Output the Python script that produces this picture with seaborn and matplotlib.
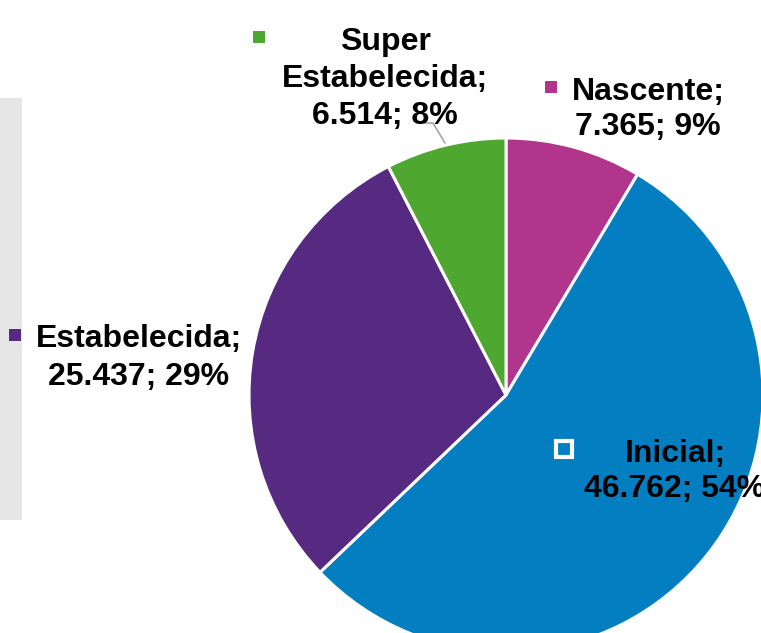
import matplotlib.pyplot as plt
import seaborn as sns
from matplotlib.patches import Rectangle

# data
categories = ['Nascente', 'Inicial', 'Estabelecida', 'Super Estabelecida']
values = [7365, 46762, 25437, 6514]
value_labels = ['7.365', '46.762', '25.437', '6.514']
percent_labels = ['9%', '54%', '29%', '8%']
colors = ['#B0358B', '#037EC0', '#572A82', '#4EA72E']

W, H = 761, 633

sns.set_theme(style='white')
plt.rcParams['font.family'] = ['Liberation Sans', 'DejaVu Sans']

fig = plt.figure(figsize=(W / 100, H / 100), dpi=100)
ax = fig.add_axes([0, 0, 1, 1])


def py(y):
    # image pixel row -> axes data y
    return H - y


# gray panel on the left
ax.add_patch(Rectangle((0, py(520)), 22, 422, color='#E6E6E6', lw=0, zorder=0))

ax.pie(values, colors=colors, startangle=90, counterclock=False,
       center=(506, py(395)), radius=257, frame=True,
       wedgeprops=dict(edgecolor='white', linewidth=2.2))
ax.set_xlim(0, W)
ax.set_ylim(0, H)
ax.axis('off')

# label layout: (center x, first baseline, line step, marker x, marker y)
layout = {
    'Nascente': (648, 100, 35, 551, 87),
    'Inicial': (675, 462, 35, 564, 449),
    'Estabelecida': (139, 347, 38, 15, 335),
    'Super Estabelecida': (385, 50, 37, 259, 37),
}

for cat, vl, pct, col in zip(categories, value_labels, percent_labels, colors):
    if cat == 'Super Estabelecida':
        lines = ['Super', 'Estabelecida;', f'{vl}; {pct}']
    else:
        lines = [f'{cat};', f'{vl}; {pct}']
    cx, base, step, mx, my = layout[cat]
    for i, line in enumerate(lines):
        ax.text(cx, py(base + i * step), line, ha='center', va='baseline',
                fontsize=23, fontweight='bold', color='black', zorder=5)
    if cat == 'Inicial':
        ax.plot(mx, py(my), marker='s', markersize=11, markerfacecolor=col,
                markeredgecolor='white', markeredgewidth=3, zorder=6)
    else:
        ax.plot(mx, py(my), marker='s', markersize=8, color=col,
                markeredgewidth=0, zorder=6)

# leader line for the small green slice
ax.plot([425, 433, 445], [py(123), py(123), py(143)], color='#A6A6A6', lw=1.2, zorder=4)

fig.savefig('out.png', dpi=100)
